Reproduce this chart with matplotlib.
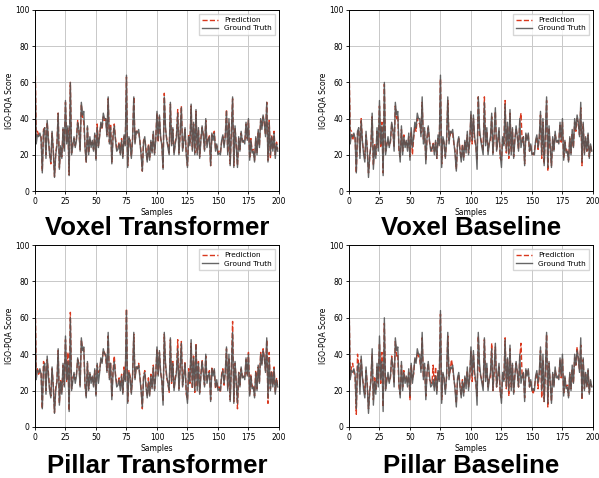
import numpy as np
import matplotlib.pyplot as plt

# Ground truth (same in all panels), samples 0..199
ground_truth = [
    73, 26, 31, 30, 32, 29, 10, 33, 35, 18,
    39, 28, 20, 16, 33, 22, 7.5, 20, 25, 43,
    12, 25, 18, 35, 22, 50, 26, 36, 8.5, 60,
    20, 25, 30, 24, 28, 38, 34, 22, 49, 42,
    44, 24, 16, 36, 20, 30, 24, 28, 22, 32,
    17, 35, 24, 30, 38, 35, 43, 40, 40, 30,
    52, 26, 35, 15, 30, 36, 28, 22, 23, 26,
    20, 28, 18, 31, 25, 64, 13, 30, 27, 18,
    28, 52, 26, 33, 32, 34, 27, 20, 11, 27,
    30, 22, 16, 25, 17, 28, 21, 33, 20, 28,
    44, 28, 42, 30, 25, 12, 52, 35, 28, 24,
    20, 49, 25, 35, 20, 26, 30, 43, 20, 32,
    46, 22, 28, 35, 20, 13, 30, 25, 48, 22,
    38, 20, 45, 20, 35, 18, 28, 36, 30, 22,
    40, 24, 28, 30, 14, 32, 28, 32, 22, 26,
    20, 21, 20, 28, 31, 24, 30, 44, 20, 40,
    14, 32, 52, 13, 36, 24, 13, 30, 22, 33,
    27, 28, 26, 38, 28, 40, 17, 28, 21, 22,
    16, 30, 20, 34, 24, 40, 34, 42, 38, 30,
    49, 16, 38, 20, 30, 22, 32, 18, 26, 22,
]

pred_voxel_transformer = [
    80, 30, 33, 31, 31, 30, 11, 34, 35, 20,
    38, 29, 21, 15, 32, 23, 8, 21, 26, 43,
    13, 24, 19, 34, 23, 49, 27, 35, 9, 60,
    21, 26, 29, 25, 29, 39, 33, 23, 48, 41,
    38, 25, 16, 35, 21, 29, 25, 27, 23, 31,
    18, 37, 25, 31, 37, 34, 41, 39, 40, 31,
    51, 27, 37, 16, 31, 37, 29, 23, 24, 27,
    21, 29, 19, 30, 26, 63, 14, 29, 28, 19,
    29, 52, 27, 33, 33, 33, 28, 21, 11, 28,
    29, 23, 17, 26, 18, 27, 22, 32, 21, 29,
    43, 27, 41, 29, 26, 13, 54, 34, 29, 25,
    21, 48, 26, 34, 21, 27, 31, 45, 21, 31,
    47, 23, 27, 34, 21, 14, 31, 26, 47, 23,
    37, 21, 44, 21, 34, 19, 29, 35, 31, 23,
    39, 26, 29, 31, 14, 31, 30, 33, 23, 25,
    21, 22, 21, 27, 30, 26, 31, 45, 21, 38,
    15, 33, 51, 14, 35, 25, 14, 29, 23, 32,
    28, 27, 27, 37, 29, 39, 18, 29, 22, 23,
    17, 29, 21, 33, 25, 39, 36, 41, 37, 31,
    49, 17, 39, 18, 31, 23, 33, 20, 27, 23,
]

pred_voxel_baseline = [
    72, 34, 33, 28, 31, 30, 10, 32, 34, 21,
    40, 27, 22, 18, 31, 24, 10, 18, 26, 41,
    14, 26, 20, 33, 24, 47, 24, 38, 10, 59,
    22, 26, 28, 25, 27, 37, 33, 24, 47, 40,
    42, 22, 19, 34, 22, 31, 25, 27, 24, 30,
    19, 33, 20, 29, 36, 33, 40, 38, 37, 32,
    49, 28, 33, 17, 29, 35, 27, 24, 22, 27,
    22, 27, 18, 29, 26, 62, 15, 29, 26, 19,
    27, 50, 28, 31, 33, 32, 26, 22, 12, 26,
    29, 23, 18, 26, 18, 27, 23, 31, 21, 27,
    42, 26, 40, 28, 25, 17, 52, 31, 29, 26,
    22, 52, 27, 33, 22, 27, 28, 41, 21, 30,
    44, 23, 27, 33, 18, 17, 29, 26, 50, 21,
    36, 18, 43, 22, 34, 19, 29, 34, 30, 23,
    38, 43, 27, 30, 15, 31, 29, 31, 22, 25,
    21, 20, 22, 27, 30, 23, 29, 42, 18, 38,
    15, 30, 50, 11, 35, 23, 14, 29, 23, 31,
    28, 27, 27, 37, 27, 38, 18, 27, 22, 23,
    17, 29, 21, 32, 24, 38, 33, 40, 37, 31,
    46, 14, 37, 21, 29, 22, 31, 19, 25, 22,
]

pred_pillar_transformer = [
    80, 29, 32, 29, 31, 30, 10, 36, 34, 20,
    37, 30, 21, 17, 32, 23, 8, 22, 25, 42,
    13, 26, 19, 34, 23, 48, 25, 41, 9, 63,
    21, 27, 29, 26, 29, 37, 35, 23, 48, 43,
    43, 23, 17, 35, 21, 29, 26, 28, 23, 31,
    18, 34, 30, 31, 37, 36, 42, 41, 38, 31,
    50, 27, 35, 17, 31, 39, 29, 24, 24, 27,
    22, 29, 19, 33, 26, 65, 14, 31, 28, 19,
    28, 51, 27, 33, 32, 35, 28, 21, 10, 28,
    31, 23, 17, 27, 18, 29, 22, 34, 21, 29,
    43, 29, 41, 30, 26, 14, 51, 34, 27, 24,
    19, 48, 24, 36, 21, 27, 31, 48, 21, 33,
    47, 23, 29, 36, 18, 15, 32, 24, 46, 21,
    39, 19, 46, 22, 36, 19, 29, 37, 29, 23,
    39, 25, 29, 31, 15, 33, 29, 31, 21, 25,
    21, 22, 19, 29, 32, 23, 31, 43, 21, 38,
    15, 33, 58, 14, 35, 25, 10, 30, 23, 32,
    28, 27, 27, 37, 29, 41, 18, 29, 22, 23,
    17, 31, 21, 33, 25, 41, 35, 43, 38, 31,
    48, 13, 41, 21, 31, 23, 33, 19, 27, 22,
]

pred_pillar_baseline = [
    72, 27, 33, 35, 30, 28, 7, 40, 34, 22,
    37, 27, 23, 18, 31, 24, 10, 19, 27, 40,
    15, 27, 20, 33, 24, 46, 24, 41, 11, 57,
    21, 27, 28, 25, 27, 39, 33, 24, 47, 39,
    40, 22, 18, 34, 22, 31, 26, 27, 24, 30,
    15, 34, 26, 29, 37, 36, 41, 39, 37, 32,
    49, 27, 33, 17, 30, 35, 26, 25, 24, 34,
    22, 33, 20, 30, 26, 62, 15, 29, 27, 20,
    27, 50, 28, 31, 37, 33, 26, 22, 13, 26,
    29, 23, 18, 26, 19, 27, 24, 31, 22, 27,
    42, 25, 40, 28, 24, 17, 50, 31, 28, 26,
    22, 48, 27, 33, 22, 27, 27, 46, 20, 30,
    44, 22, 27, 33, 18, 16, 29, 26, 49, 21,
    37, 17, 43, 22, 34, 19, 29, 35, 30, 22,
    38, 46, 27, 30, 16, 31, 29, 31, 22, 25,
    21, 18, 22, 27, 30, 21, 29, 42, 16, 37,
    14, 30, 51, 11, 35, 23, 14, 29, 23, 31,
    28, 27, 27, 37, 27, 38, 18, 27, 22, 23,
    17, 29, 21, 32, 24, 38, 34, 44, 37, 31,
    45, 15, 37, 21, 29, 22, 31, 19, 25, 22,
]

titles = ["Voxel Transformer", "Voxel Baseline", "Pillar Transformer", "Pillar Baseline"]
predictions = [pred_voxel_transformer, pred_voxel_baseline,
               pred_pillar_transformer, pred_pillar_baseline]

samples = np.arange(len(ground_truth))

fig = plt.figure(figsize=(5.99, 4.78), dpi=100)
# axes rectangles in figure fractions (left, bottom, width, height)
rects = [
    (0.0584, 0.6004, 0.4073, 0.3787),
    (0.5826, 0.6004, 0.4073, 0.3787),
    (0.0584, 0.1067, 0.4073, 0.3807),
    (0.5826, 0.1067, 0.4073, 0.3807),
]
title_y = [0.508, 0.0105]

for i, (title, pred) in enumerate(zip(titles, predictions)):
    ax = fig.add_axes(rects[i])
    ax.plot(samples, pred, color='#d9381e', linestyle='--', linewidth=1.0, label='Prediction')
    ax.plot(samples, ground_truth, color='#555555', linewidth=1.0, alpha=0.9, label='Ground Truth')
    ax.set_xlim(0, 200)
    ax.set_ylim(0, 100)
    ax.set_xticks(np.arange(0, 201, 25))
    ax.set_yticks(np.arange(0, 101, 20))
    ax.tick_params(labelsize=5.5, length=2.5, width=0.6, pad=1.5)
    ax.set_xlabel('Samples', fontsize=5.5, labelpad=1.5)
    ax.set_ylabel('IGO-PQA Score', fontsize=5.5, labelpad=1)
    ax.grid(True, color='#c8c8c8', linewidth=0.7)
    for sp in ax.spines.values():
        sp.set_linewidth(0.7)
    ax.legend(loc='upper right', fontsize=5.3, handlelength=2.2, borderpad=0.45,
              labelspacing=0.3, fancybox=False, edgecolor='#cccccc')
    cx = rects[i][0] + rects[i][2] / 2
    fig.text(cx, title_y[i // 2], title, ha='center', va='baseline', fontsize=18.5,
             fontweight='bold', family=['Liberation Sans', 'DejaVu Sans'])

plt.savefig('out.png', dpi=100)
plt.close()
